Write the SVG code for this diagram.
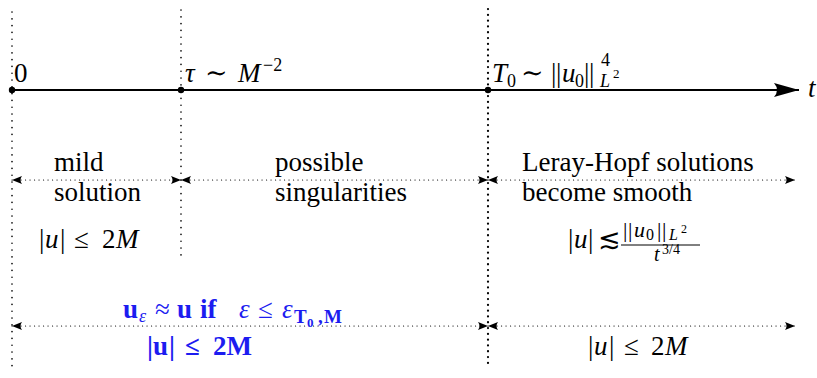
<svg xmlns="http://www.w3.org/2000/svg" width="817" height="378" viewBox="0 0 817 378">
<defs>
<style>
text{font-family:"Liberation Serif","DejaVu Serif",serif;font-size:27px;fill:#000}
.i{font-style:italic}
.s{font-size:18px}
.ss{font-size:13px}
.n22{font-size:22px}
.n19{font-size:19px}
.n16{font-size:16px}
.n20{font-size:20px}
.n14{font-size:14px}
.n12{font-size:12px}
.b{font-weight:bold}
.blue{fill:#1c1cf0}
.vd{stroke:#000;stroke-linecap:round;fill:none}
.hd{stroke:#000;stroke-width:1.2;stroke-linecap:round;stroke-dasharray:0.1 4.4;fill:none}
</style>
<marker id="ah" viewBox="-11 -5 12 10" refX="0" refY="0" markerWidth="12" markerHeight="10" markerUnits="userSpaceOnUse" orient="auto-start-reverse">
<path d="M0,0 L-10,-4 Q-7,0 -10,4 Z" fill="#000"/>
</marker>
<marker id="big" viewBox="-26 -8 27 16" refX="0" refY="0" markerWidth="27" markerHeight="16" markerUnits="userSpaceOnUse" orient="auto">
<path d="M0,0 L-25,-7 Q-19,0 -25,7 Z" fill="#000"/>
</marker>
</defs>
<g id="guides">
<line class="vd" x1="12" y1="12" x2="12" y2="367" stroke-width="1.6" stroke-dasharray="0.1 6.7"/>
<line class="vd" x1="181" y1="10" x2="181" y2="261" stroke-width="1.6" stroke-dasharray="0.1 6.7"/>
<line class="vd" x1="488" y1="9" x2="488" y2="368" stroke-width="2.2" stroke-dasharray="0.1 5.7"/>
</g>
<g id="connectors">
<line id="axis" x1="12" y1="90" x2="799" y2="90" stroke="#000" stroke-width="2" marker-end="url(#big)"/>
<line class="hd" x1="12" y1="180" x2="181" y2="180" marker-start="url(#ah)" marker-end="url(#ah)"/>
<line class="hd" x1="181" y1="180" x2="488" y2="180" marker-start="url(#ah)" marker-end="url(#ah)"/>
<line class="hd" x1="488" y1="180" x2="795" y2="180" marker-start="url(#ah)" marker-end="url(#ah)"/>
<line class="hd" x1="12" y1="326" x2="488" y2="326" marker-start="url(#ah)" marker-end="url(#ah)"/>
<line class="hd" x1="488" y1="326" x2="795" y2="326" marker-start="url(#ah)" marker-end="url(#ah)"/>
</g>
<g id="t0">
<circle cx="12" cy="90" r="3.2"/>
<text x="14" y="82">0</text>
</g>
<g id="tau">
<circle cx="181" cy="90" r="3.2"/>
<text y="82"><tspan class="i" x="185">τ</tspan><tspan x="205">∼</tspan><tspan class="i" x="238">M</tspan></text>
<text class="s" x="263" y="71">−2</text>
</g>
<g id="T0">
<circle cx="488" cy="90" r="3.2"/>
<text y="82"><tspan class="i" x="492">T</tspan><tspan x="521">∼</tspan><tspan x="551">|</tspan><tspan x="556">|</tspan><tspan class="i" x="562">u</tspan><tspan x="584">|</tspan><tspan x="589">|</tspan></text>
<text class="s" y="87"><tspan x="507">0</tspan><tspan x="575">0</tspan></text>
<text class="s" x="601" y="66">4</text>
<text class="s i" x="600" y="87">L</text>
<text class="ss" x="613" y="78">2</text>
</g>
<g id="tlabel">
<text class="i" x="808" y="97">t</text>
</g>
<g id="mild">
<text x="54" y="171">mild</text>
<text x="54" y="201">solution</text>
<text y="248"><tspan x="39">|</tspan><tspan class="i" x="45">u</tspan><tspan x="60">|</tspan><tspan x="74">≤</tspan><tspan x="102">2</tspan><tspan class="i" x="116">M</tspan></text>
</g>
<g id="singular">
<text x="275" y="171">possible</text>
<text x="275" y="201">singularities</text>
</g>
<g id="leray">
<text x="522" y="171">Leray-Hopf solutions</text>
<text x="522" y="201">become smooth</text>
<text y="248"><tspan x="568">|</tspan><tspan class="i" x="574">u</tspan><tspan x="588">|</tspan><tspan x="598">≲</tspan></text>
<text class="n22" y="237"><tspan x="623">|</tspan><tspan x="628">|</tspan><tspan class="i" x="634">u</tspan><tspan x="657">|</tspan><tspan x="662">|</tspan></text>
<text class="n16" y="240"><tspan x="646">0</tspan><tspan class="i" x="669">L</tspan></text>
<text class="n12" x="681" y="233">2</text>
<line x1="621" y1="245" x2="700" y2="245" stroke="#000" stroke-width="1"/>
<text class="n20 i" x="654" y="261">t</text>
<text class="n14" x="662" y="254">3/4</text>
</g>
<g id="approx">
<text class="blue" y="318"><tspan class="b" x="123">u</tspan><tspan x="155">≈</tspan><tspan class="b" x="177">u</tspan><tspan class="b" x="200">if</tspan><tspan class="i" x="239">ε</tspan><tspan x="258">≤</tspan><tspan class="i" x="282">ε</tspan></text>
<text class="blue s i" x="139" y="322">ε</text>
<text class="blue b n19" y="323"><tspan x="294">T</tspan><tspan x="318">,</tspan><tspan x="324">M</tspan></text>
<text class="blue ss b" x="307" y="327">0</text>
<text class="blue b" y="355"><tspan x="147">|</tspan><tspan x="153">u</tspan><tspan x="169">|</tspan><tspan x="185">≤</tspan><tspan x="213">2M</tspan></text>
</g>
<g id="bound">
<text y="355"><tspan x="588">|</tspan><tspan class="i" x="594">u</tspan><tspan x="609">|</tspan><tspan x="624">≤</tspan><tspan x="651">2</tspan><tspan class="i" x="665">M</tspan></text>
</g>
</svg>
